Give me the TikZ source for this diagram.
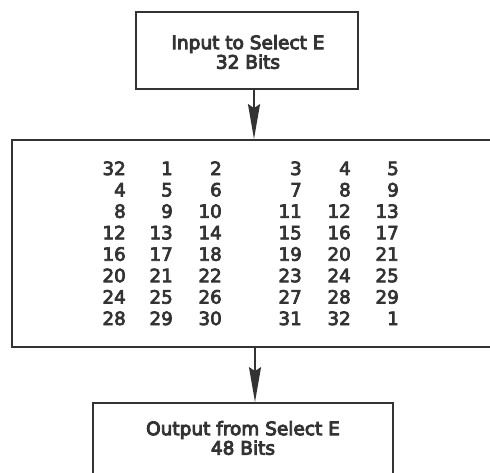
\documentclass[tikz,border=0pt]{standalone}
\usepackage{fontspec}
\usepackage{xcolor}
\usetikzlibrary{arrows.meta}
\setmainfont{DejaVu Sans}[RawFeature={embolden=4}]
\newfontfamily\lblfont{DejaVu Sans}[RawFeature={embolden=5}]
\definecolor{ink}{HTML}{333333}

\begin{document}
\begin{tikzpicture}[x=1pt,y=-1pt,
        box/.style={draw=ink,line width=1.8pt,inner sep=0pt},
        lbl/.style={text=ink,align=center,font=\fontsize{18.5}{19.5}\selectfont\lblfont},
        num/.style={anchor=base east,text=ink,inner sep=0pt,font=\fontsize{18.3}{20}\selectfont},
        flow/.style={draw=ink,line width=1.8pt,-{Stealth[length=35pt,width=12pt,inset=4pt]}}]
        \useasboundingbox (0,0) rectangle (490,472);

        % boxes
        \node[box,minimum width=222pt,minimum height=77pt] (in) at (247,50.5) {};
        \node[lbl] (intxt) at (248,52) {Input to Select E\\32 Bits};
        \node[box,minimum width=490pt,minimum height=207pt] (tab) at (257,243.5) {};
        \node[box,minimum width=300pt,minimum height=82pt] (out) at (243,444) {};
        \node[lbl] (outtxt) at (243,438) {Output from Select E\\48 Bits};

        % expansion table
        \foreach \r/\a/\b/\c/\d/\e/\f in {%
        0/32/1/2/3/4/5,
        1/4/5/6/7/8/9,
        2/8/9/10/11/12/13,
        3/12/13/14/15/16/17,
        4/16/17/18/19/20/21,
        5/20/21/22/23/24/25,
        6/24/25/26/27/28/29,
        7/28/29/30/31/32/1}{
                \node[num] (n\r a) at (126,175+21.43*\r) {\a};
                \node[num] (n\r b) at (173,175+21.43*\r) {\b};
                \node[num] (n\r c) at (222,175+21.43*\r) {\c};
                \node[num] (n\r d) at (302,175+21.43*\r) {\d};
                \node[num] (n\r e) at (351,175+21.43*\r) {\e};
                \node[num] (n\r f) at (399,175+21.43*\r) {\f};
            }

        % arrows
        \coordinate (upper) at (254,0);
        \coordinate (lower) at (255,0);
        \draw[flow] (in.south -| upper) -- (tab.north -| upper);
        \draw[flow] (tab.south -| lower) -- (out.north -| lower);
    \end{tikzpicture}
\end{document}
